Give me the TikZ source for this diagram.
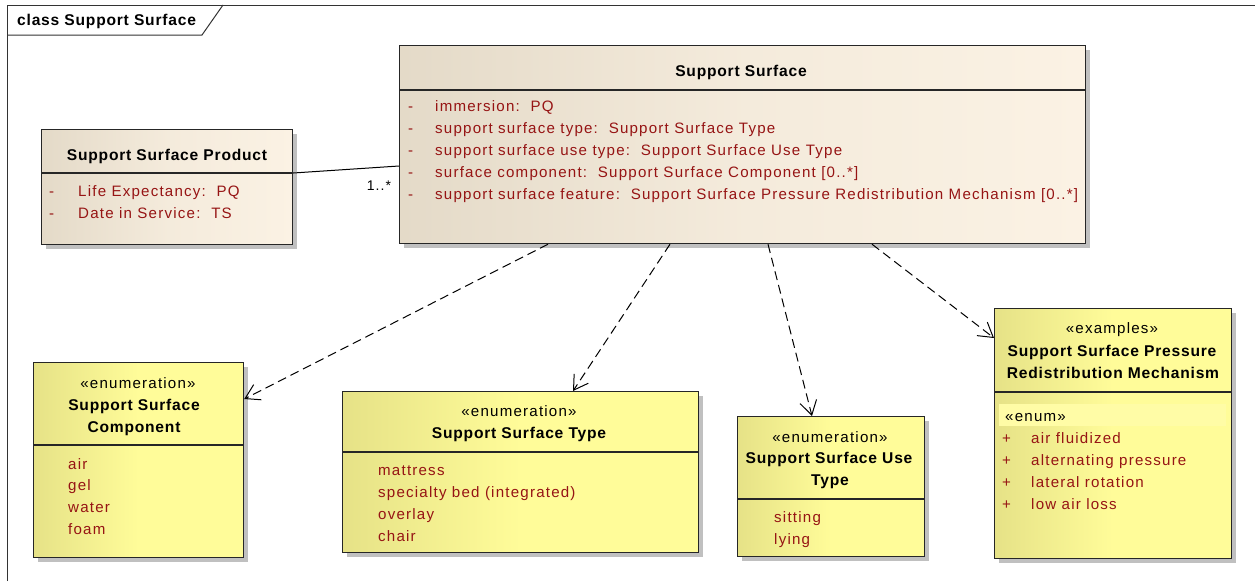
\documentclass[tikz,border=0pt]{standalone}
\usepackage{fontspec}
\setmainfont{Liberation Sans}[LetterSpace=8,BoldFeatures={LetterSpace=5}]
\usetikzlibrary{arrows.meta,shadows}

\definecolor{tanL}{RGB}{228,218,200}
\definecolor{tanR}{RGB}{251,242,228}
\definecolor{yelL}{RGB}{230,226,135}
\definecolor{yelR}{RGB}{255,252,153}
\definecolor{attrred}{RGB}{150,20,20}
\definecolor{enumband}{RGB}{255,252,166}
\definecolor{shadowgray}{RGB}{192,192,192}

\tikzset{
  classbox/.style={draw=black!85, line width=1.2pt, anchor=north west, inner sep=0pt,
    drop shadow={fill=shadowgray, opacity=1, shadow xshift=4pt, shadow yshift=-4pt}},
  tanbox/.style={classbox, left color=tanL, right color=tanR, middle color=tanR!70!tanL},
  yelbox/.style={classbox, left color=yelL, right color=yelR, middle color=yelR},
  sepline/.style={draw=black!85, line width=1.2pt},
  title/.style={font=\fontsize{15.6}{18}\selectfont\bfseries, anchor=base, inner sep=0pt},
  stereo/.style={font=\fontsize{15.1}{18}\selectfont, anchor=base, inner sep=0pt},
  attr/.style={font=\fontsize{15.1}{18}\selectfont, text=attrred, anchor=base west, inner sep=0pt},
  dep/.style={draw=black, line width=1pt, dash pattern=on 9pt off 5pt,
    -{Straight Barb[length=14pt,width=17pt]}}
}

\begin{document}
\begin{tikzpicture}[x=1pt,y=-1pt]

    \useasboundingbox (0,0) rectangle (1255,581);

    % diagram frame and its name tab
    \draw[line width=1pt, black!80] (7,581) -- (7,5) -- (1255,5);
    \draw[line width=1pt, black!80] (7,35) -- (202,35) -- (223,5);
    \node[title, anchor=base west] (frame-name) at (17,25) {class Support Surface};

    % the classes
    \node[tanbox, minimum width=251pt, minimum height=115pt] (prod) at (41,129) {};
    \node[tanbox, minimum width=686pt, minimum height=198pt] (ss) at (399,45) {};
    \node[yelbox, minimum width=210pt, minimum height=195pt] (comp) at (33,362) {};
    \node[yelbox, minimum width=356pt, minimum height=161pt] (type) at (342,391) {};
    \node[yelbox, minimum width=187pt, minimum height=140pt] (use) at (737,416) {};
    \node[yelbox, minimum width=237pt, minimum height=250pt] (mech) at (994,308) {};

    % compartment lines
    \draw[sepline] (prod.west |- 0,173) -- (prod.east |- 0,173);
    \draw[sepline] (ss.west |- 0,90) -- (ss.east |- 0,90);
    \draw[sepline] (comp.west |- 0,445) -- (comp.east |- 0,445);
    \draw[sepline] (type.west |- 0,452) -- (type.east |- 0,452);
    \draw[sepline] (use.west |- 0,499) -- (use.east |- 0,499);
    \draw[sepline] (mech.west |- 0,392) -- (mech.east |- 0,392);

    % Support Surface Product
    \node[title] (prod-name) at (167,160) {Support Surface Product};
    \node[attr] (prod-v1) at (49,196) {-};
    \node[attr] (prod-a1) at (78,196) {Life Expectancy:~~PQ};
    \node[attr] (prod-v2) at (49,218) {-};
    \node[attr] (prod-a2) at (78,218) {Date in Service:~~TS};

    % Support Surface
    \node[title] (ss-name) at (741,76) {Support Surface};
    \foreach \txt [count=\i] in {{immersion:~~PQ},
        {support surface type:~~Support Surface Type},
        {support surface use type:~~Support Surface Use Type},
        {surface component:~~Support Surface Component [0..*]},
        {support surface feature:~~Support Surface Pressure Redistribution Mechanism [0..*]}} {
      \node[attr] (ss-v\i) at (408,{89+22*\i}) {-};
      \node[attr] (ss-a\i) at (435,{89+22*\i}) {\txt};
    }

    % Support Surface Component
    \node[stereo] (comp-st) at (138,388) {«enumeration»};
    \node[title] (comp-n1) at (134,410) {Support Surface};
    \node[title] (comp-n2) at (134,432) {Component};
    \foreach \txt [count=\i] in {air,gel,water,foam}
      \node[attr] (comp-\i) at (68,{447.3+21.7*\i}) {\txt};

    % Support Surface Type
    \node[stereo] (type-st) at (519,416) {«enumeration»};
    \node[title] (type-n1) at (519,438) {Support Surface Type};
    \foreach \txt [count=\i] in {mattress,specialty bed (integrated),overlay,chair}
      \node[attr] (type-\i) at (378,{453+22*\i}) {\txt};

    % Support Surface Use Type
    \node[stereo] (use-st) at (830,442) {«enumeration»};
    \node[title] (use-n1) at (829,463) {Support Surface Use};
    \node[title] (use-n2) at (830,485) {Type};
    \foreach \txt [count=\i] in {sitting,lying}
      \node[attr] (use-\i) at (774,{500+22*\i}) {\txt};

    % Support Surface Pressure Redistribution Mechanism
    \node[stereo] (mech-st) at (1112,333) {«examples»};
    \node[title] (mech-n1) at (1112,356) {Support Surface Pressure};
    \node[title] (mech-n2) at (1113,378) {Redistribution Mechanism};
    \fill[enumband] (999,404) rectangle (1226,426);
    \node[stereo, anchor=base west] (mech-enum) at (1005,421) {«enum»};
    \foreach \txt [count=\i] in {air fluidized,alternating pressure,lateral rotation,low air loss} {
      \node[attr] (mech-v\i) at (1002,{421+22*\i}) {+};
      \node[attr] (mech-\i) at (1031,{421+22*\i}) {\txt};
    }

    % association with multiplicity
    \draw[line width=1pt] (prod.east |- 0,173) -- (ss.west |- 0,166);
    \node[stereo, font=\fontsize{14}{16}\selectfont] (mult) at (379,190) {1..*};

    % dependencies to the enumerations
    \draw[dep] (ss.south -| 548,0) -- (comp.east |- 0,399);
    \draw[dep] (ss.south -| 670,0) -- (type.north -| 573,0);
    \draw[dep] (ss.south -| 768,0) -- (use.north -| 812,0);
    \draw[dep] (ss.south -| 872,0) -- (mech.west |- 0,338);

\end{tikzpicture}
\end{document}
